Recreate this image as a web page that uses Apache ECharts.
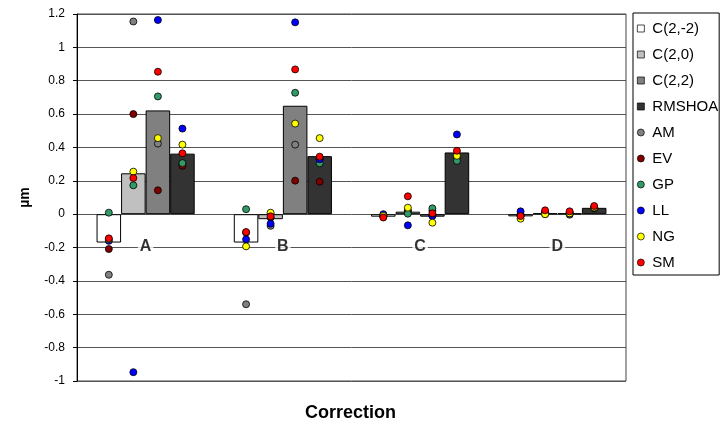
<!DOCTYPE html>
<html>
<head>
<meta charset="utf-8">
<script src="https://cdn.jsdelivr.net/npm/echarts@6/dist/echarts.min.js"></script>
<style>html,body{margin:0;padding:0;background:#fff}#c{width:722px;height:423px}</style>
</head>
<body>
<div id="c"></div>
<script>
// ---- data ----
const categories = ['A', 'B', 'C', 'D'];
const metricNames = ['C(2,-2)', 'C(2,0)', 'C(2,2)', 'RMSHOA'];
const barC2m2 = [-0.17, -0.17, -0.015, -0.013];
const barC20 = [0.245, -0.03, 0.015, 0.005];
const barC22 = [0.622, 0.65, -0.015, 0.005];
const barRMSHOA = [0.363, 0.348, 0.37, 0.038];

const personNames = ['AM', 'EV', 'GP', 'LL', 'NG', 'SM'];
// each row: per category A..D, values for C(2,-2), C(2,0), C(2,2), RMSHOA
const ptAM = [-0.363, 1.155, 0.423, 0.30,  -0.54, -0.07, 0.417, 0.33,  -0.01, 0.02, 0.02, 0.35,  0.0, 0.0, -0.003, 0.035];
const ptEV = [-0.209, 0.60, 0.143, 0.29,  -0.11, -0.02, 0.201, 0.195,  -0.015, 0.02, -0.01, 0.34,  -0.01, 0.01, 0.005, 0.035];
const ptGP = [0.009, 0.173, 0.706, 0.306,  0.03, 0.0, 0.728, 0.305,  -0.01, 0.003, 0.035, 0.32,  -0.01, 0.01, 0.005, 0.037];
const ptLL = [-0.16, -0.947, 1.164, 0.513,  -0.151, -0.057, 1.15, 0.33,  0.0, -0.067, -0.01, 0.478,  0.017, 0.01, 0.01, 0.04];
const ptNG = [-0.15, 0.255, 0.456, 0.417,  -0.193, 0.009, 0.543, 0.456,  -0.01, 0.039, -0.051, 0.35,  -0.027, 0.0, 0.005, 0.04];
const ptSM = [-0.145, 0.217, 0.854, 0.365,  -0.107, -0.013, 0.868, 0.345,  -0.02, 0.107, 0.005, 0.38,  -0.011, 0.023, 0.017, 0.049];

const yTicks = { min: -1, max: 1.2, interval: 0.2 };

// ---- styling / layout ----
const FONT = 'Liberation Sans, Arial, sans-serif';
const barColors = ['#ffffff', '#c0c0c0', '#808080', '#333333'];
const personColors = ['#808080', '#800000', '#339966', '#0000ff', '#ffff00', '#ff0000'];
const CAT_GAP = 0.285;              // fraction of category band left empty
const slotW = (1 - CAT_GAP) / metricNames.length;

const barSeriesData = [barC2m2, barC20, barC22, barRMSHOA];
const personData = [ptAM, ptEV, ptGP, ptLL, ptNG, ptSM];

const series = [];
barSeriesData.forEach((vals, j) => {
  series.push({
    name: metricNames[j], type: 'bar', xAxisIndex: 0, yAxisIndex: 0,
    data: vals, barGap: 0, barCategoryGap: (CAT_GAP * 100) + '%',
    itemStyle: { color: barColors[j], borderColor: '#000', borderWidth: 1 },
    z: 2
  });
});
personData.forEach((vals, p) => {
  const d = [];
  vals.forEach((v, k) => {
    const ci = Math.floor(k / metricNames.length);
    const mj = k % metricNames.length;
    d.push([ci + (mj - (metricNames.length - 1) / 2) * slotW, v]);
  });
  series.push({
    name: personNames[p], type: 'scatter', xAxisIndex: 1, yAxisIndex: 0,
    data: d, symbol: 'circle', symbolSize: 7,
    itemStyle: { color: personColors[p], borderColor: '#000', borderWidth: 0.8, opacity: 1 },
    z: 5
  });
});
// category labels sitting just below the zero line (as the axis crosses at 0)
series.push({
  name: '_catLabels', type: 'scatter', xAxisIndex: 0, yAxisIndex: 0,
  data: categories.map(c => ({ value: [c, 0], name: c })),
  symbolSize: 0, silent: true, z: 4,
  label: {
    show: true, position: 'bottom', distance: 24, formatter: '{b}',
    fontSize: 16, fontWeight: 'bold', color: '#000', fontFamily: FONT,
    backgroundColor: '#fff', padding: [0, 2, 0, 2]
  }
});

const chart = echarts.init(document.getElementById('c'), null, { renderer: 'canvas' });
chart.setOption({
  animation: false,
  backgroundColor: '#fff',
  textStyle: { fontFamily: FONT },
  title: {
    text: 'Correction', left: 305, top: 404,
    textStyle: { fontSize: 18, fontWeight: 'bold', color: '#000', fontFamily: FONT },
    padding: 0
  },
  grid: { left: 77, right: 96, top: 14, bottom: 42, show: true, borderColor: '#444', borderWidth: 1, backgroundColor: '#fff' },
  legend: {
    orient: 'vertical', left: 633, top: 13,
    backgroundColor: '#fff', borderColor: '#000', borderWidth: 1,
    padding: [8, 1, 5, 4],
    itemWidth: 7, itemHeight: 7, itemGap: 11,
    itemStyle: { borderWidth: 0.7, borderColor: '#000' },
    textStyle: { fontSize: 15, color: '#000', fontFamily: FONT, padding: [0, 0, 0, 3] },
    data: metricNames.map(n => ({ name: n, icon: 'rect' })).concat(personNames.map(n => ({ name: n, icon: 'circle' })))
  },
  xAxis: [
    {
      type: 'category', data: categories, gridIndex: 0, position: 'bottom',
      axisLine: { show: false },
      axisTick: { show: false },
      axisLabel: { show: false },
      splitLine: { show: false }
    },
    {
      type: 'value', gridIndex: 0, position: 'top', min: -0.5, max: 3.5, show: false,
      axisLine: { show: false, onZero: false }, axisTick: { show: false }, axisLabel: { show: false }, splitLine: { show: false }
    }
  ],
  yAxis: {
    type: 'value', min: yTicks.min, max: yTicks.max, interval: yTicks.interval,
    axisLine: { show: true, onZero: false, lineStyle: { color: '#000' } },
    axisTick: { show: true, inside: false, length: 4, lineStyle: { color: '#000' } },
    axisLabel: { fontSize: 12, color: '#000', margin: 12, fontFamily: FONT },
    splitLine: { show: true, lineStyle: { color: '#555', width: 1 } },
    name: 'µm', nameLocation: 'middle', nameGap: 45, nameRotate: 90,
    nameTextStyle: { fontSize: 14, fontWeight: 'bold', color: '#000', fontFamily: FONT }
  },
  series: series
});
</script>
</body>
</html>
